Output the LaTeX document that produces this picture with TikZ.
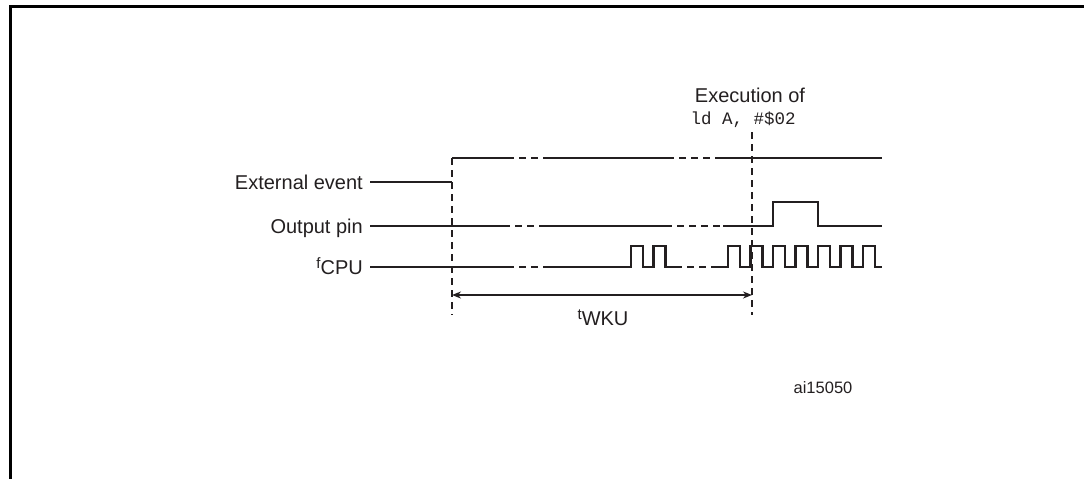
\documentclass[tikz,border=0pt]{standalone}
\usepackage{fontspec}
\setmainfont{Liberation Sans}
\newfontfamily\codefont{Liberation Mono}
\usetikzlibrary{arrows.meta}
\definecolor{ink}{HTML}{231F20}

\begin{document}
\begin{tikzpicture}[x=1pt,y=-1pt,ink,
    font=\fontsize{20}{22}\selectfont,
    sig/.style={line width=2.5pt,line join=miter},
    gap/.style={line width=2.5pt,dash pattern=on 7pt off 5pt},
    marker/.style={line width=2.2pt,dash pattern=on 7pt off 5pt},
    lbl/.style={anchor=east,inner sep=0pt,text height=14pt,text depth=0pt},
    >={Stealth[length=9pt,width=7pt]}]

  \useasboundingbox (0,0) rectangle (1084,479);

  % frame
  \draw[black,line width=3pt] (10,479) -- (10,6) -- (1084,6);

  % signal names
  \node[lbl] (ext) at (363,182) {External event};
  \node[lbl] (out) at (363,226) {Output pin};
  \node[lbl] (cpu) at (363,267) {\raisebox{0.55ex}{\fontsize{15}{15}\selectfont f}CPU};

  % external event
  \draw[sig] ([xshift=7pt]ext.east) -- (452,182);
  \draw[sig] (452,158) -- (507,158);
  \draw[gap] (507,158) -- (543,158);
  \draw[sig] (543,158) -- (667,158);
  \draw[gap] (667,158) -- (717,158);
  \draw[sig] (717,158) -- (882,158);

  % output pin
  \draw[sig] ([xshift=7pt]out.east) -- (503,226);
  \draw[gap] (503,226) -- (545,226);
  \draw[sig] (545,226) -- (665,226);
  \draw[gap] (665,226) -- (723,226);
  \draw[sig] (723,226) -- (773,226) -- (773,202) -- (818,202)
    -- (818,226) -- (882,226);

  % cpu clock
  \draw[sig] ([xshift=7pt]cpu.east) -- (507,267);
  \draw[gap] (507,267) -- (545,267);
  \draw[sig] (545,267) foreach \k in {0,1} {
      -- ({631+22.5*\k},267) -- ++(0,-21) -- ++(12,0) -- ++(0,21) }
    -- (675,267);
  \draw[gap] (675,267) -- (717,267);
  \draw[sig] (717,267) foreach \k in {0,...,6} {
      -- ({728+22.5*\k},267) -- ++(0,-21) -- ++(12,0) -- ++(0,21) }
    -- (882,267);

  % wake-up markers
  \coordinate (wkuL) at (452,295);
  \coordinate (wkuR) at (752,295);
  \draw[marker] (452,158) -- (452,315);
  \draw[marker] (752,132) -- (752,315);
  \draw[<->,line width=1.5pt] (wkuL) -- (wkuR);
  \node (twku) at (603,318)
    {\raisebox{0.55ex}{\fontsize{15}{15}\selectfont t}WKU};

  % instruction
  \node (exec) at (750,95) {Execution of};
  \node (instr) at (743,120) {\fontsize{17.5}{18}\selectfont\codefont ld A, \#\$02};

  \node[font=\fontsize{16.5}{18}\selectfont] (ref) at (823,388) {ai15050};

\end{tikzpicture}
\end{document}
